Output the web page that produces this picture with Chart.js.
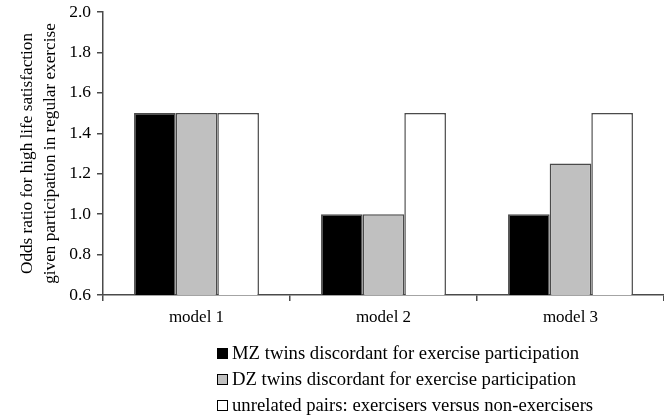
<!DOCTYPE html>
<html>
<head>
<meta charset="utf-8">
<script src="https://cdn.jsdelivr.net/npm/chart.js@4"></script>
<style>
  html, body { margin: 0; padding: 0; background: #fff; }
  #wrap { position: relative; width: 664px; height: 415px; }
  #legend { position: absolute; left: 217px; top: 340px; font-family: "Liberation Serif", serif; font-size: 18.7px; color: #000; }
  #legend div { height: 26px; line-height: 26px; white-space: nowrap; }
  #legend span.box { display: inline-block; width: 9px; height: 9px; border: 1px solid #000; margin-right: 4px; vertical-align: 0px; }
</style>
</head>
<body>
<div id="wrap">
  <canvas id="chart" width="664" height="415"></canvas>
  <div id="legend"></div>
</div>
<script>
var models = ['model 1', 'model 2', 'model 3'];
var mzValues = [1.5, 1.0, 1.0];
var dzValues = [1.5, 1.0, 1.25];
var unrelatedValues = [1.5, 1.5, 1.5];
var seriesNames = [
  'MZ twins discordant for exercise participation',
  'DZ twins discordant for exercise participation',
  'unrelated pairs: exercisers versus non-exercisers'
];
var seriesColors = ['#000000', '#c0c0c0', '#ffffff'];

var serif = '"Liberation Serif", "Times New Roman", serif';
var axisColor = '#4a4a4a';

var ctx = document.getElementById('chart').getContext('2d');
var chart = new Chart(ctx, {
  type: 'bar',
  data: {
    labels: models,
    datasets: [mzValues, dzValues, unrelatedValues].map(function (vals, i) {
      return {
        label: seriesNames[i],
        data: vals,
        backgroundColor: seriesColors[i],
        borderColor: '#4a4a4a',
        borderWidth: 1.5,
        borderSkipped: 'bottom',
        barPercentage: 1.0,
        categoryPercentage: 0.668
      };
    })
  },
  options: {
    responsive: false,
    animation: false,
    layout: { padding: { top: 0, right: 0, left: 0, bottom: 0 } },
    plugins: { legend: { display: false }, tooltip: { enabled: false } },
    scales: {
      x: {
        grid: { display: true, drawOnChartArea: false, drawTicks: true, tickLength: 6, color: axisColor, lineWidth: 1.5, offset: true },
        border: { color: axisColor, width: 1.5 },
        ticks: { color: '#000', font: { family: serif, size: 17 }, padding: 6 },
        afterFit: function (scale) { scale.height = 120; }
      },
      y: {
        min: 0.6,
        max: 2.0,
        grid: { display: true, drawOnChartArea: false, drawTicks: true, tickLength: 6, color: axisColor, lineWidth: 1.5 },
        border: { color: axisColor, width: 1.5 },
        ticks: {
          stepSize: 0.2,
          color: '#000',
          font: { family: serif, size: 17.5 },
          padding: 6,
          callback: function (v) { return v.toFixed(1); }
        },
        title: {
          display: true,
          text: ['Odds ratio for high life satisfaction', 'given participation in regular exercise'],
          color: '#000',
          font: { family: serif, size: 17.2, lineHeight: 1.35 },
          padding: { top: 16, bottom: 0 }
        },
        afterFit: function (scale) {
          scale.width = 103;
          scale.paddingTop = 12;
          scale.paddingBottom = 0;
        }
      }
    }
  }
});

var legend = document.getElementById('legend');
seriesNames.forEach(function (name, i) {
  var row = document.createElement('div');
  var box = document.createElement('span');
  box.className = 'box';
  box.style.background = seriesColors[i];
  row.appendChild(box);
  row.appendChild(document.createTextNode(name));
  legend.appendChild(row);
});
</script>
</body>
</html>
